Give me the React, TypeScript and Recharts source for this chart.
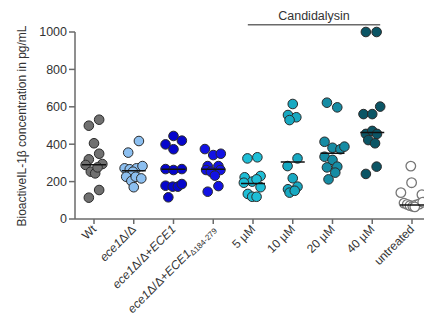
import React from 'react'
import { ScatterChart, Scatter, XAxis, YAxis, ReferenceLine } from 'recharts'

const tickLabels = [
  'Wt',
  'ece1Δ/Δ',
  'ece1Δ/Δ+ECE1',
  'ece1Δ/Δ+ECE1Δ184-279',
  '5 µM',
  '10 µM',
  '20 µM',
  '40 µM',
  'untreated',
]

// IL-1β readings per group (pg/mL) and the horizontal spread of each dot in category units
const wt = [531, 499, 405, 349, 319, 289, 294, 253, 244, 276, 155, 114]
const wtJitter = [0.13, -0.13, 0, 0.13, -0.13, -0.21, 0.21, -0.08, 0.03, 0.09, 0.13, -0.13]
const ece1 = [417, 355, 271, 266, 271, 283, 253, 226, 203, 226, 217, 170]
const ece1Jitter = [0.13, -0.14, -0.23, -0.1, 0.07, 0.22, -0.02, -0.19, -0.06, 0.05, 0.19, 0]
const revertant = [444, 399, 419, 373, 267, 262, 267, 178, 173, 173, 187, 116]
const revertantJitter = [0, -0.2, 0.21, 0, -0.2, 0, 0.21, -0.2, -0.02, 0.11, 0.21, -0.13]
const truncated = [374, 342, 349, 283, 283, 262, 253, 262, 232, 176, 146]
const truncatedJitter = [-0.21, 0, 0.19, -0.14, 0.13, -0.18, -0.06, 0.18, 0.04, 0.13, -0.14]
const um5 = [324, 330, 223, 200, 230, 212, 194, 170, 134, 119, 119]
const um5Jitter = [-0.14, 0.11, -0.21, -0.02, 0.19, 0.09, -0.23, 0.19, -0.13, -0.02, 0.09]
const um10 = [615, 556, 544, 529, 324, 283, 218, 159, 173, 141, 151]
const um10Jitter = [0, -0.12, 0.09, -0.08, 0.12, -0.13, 0, -0.12, 0.12, -0.08, 0.05]
const um20 = [622, 597, 413, 381, 373, 387, 333, 316, 276, 280, 248, 212]
const um20Jitter = [-0.14, 0.12, -0.2, 0, 0.2, 0.3, -0.2, 0, -0.14, 0.12, 0.07, -0.1]
const um40 = [1000, 1000, 561, 561, 601, 455, 471, 455, 422, 405, 241, 280]
const um40Jitter = [-0.16, 0.11, -0.22, 0, 0.2, -0.16, 0, 0.12, -0.1, 0.07, -0.16, 0.11]
const untreated = [283, 194, 141, 130, 85, 78, 72, 68, 75, 80, 65, 90]
const untreatedJitter = [-0.03, -0.01, -0.28, 0.25, -0.2, -0.12, -0.05, 0.02, 0.1, 0.18, 0.07, 0.27]

const medians = [290, 258, 266, 266, 190, 305, 351, 462, 75]
const yTicks = [0, 200, 400, 600, 800, 1000]

const fills = ['#707070', '#8cbff0', '#0606cc', '#1212e4', '#1ebed6', '#17a9c2', '#168ca4', '#0b5565', '#ffffff']

const groups = [
  [wt, wtJitter],
  [ece1, ece1Jitter],
  [revertant, revertantJitter],
  [truncated, truncatedJitter],
  [um5, um5Jitter],
  [um10, um10Jitter],
  [um20, um20Jitter],
  [um40, um40Jitter],
  [untreated, untreatedJitter],
].map(([values, jitter], i) => ({
  data: values.map((v, k) => ({ x: i + jitter[k], y: v })),
  fill: fills[i],
}))

const medianData = medians.map((m, i) => ({ x: i, y: m }))

const font = 'Arial, "Liberation Sans", sans-serif'
const ink = '#333'
const axisColor = '#6a6a6a'

function CategoryTick({ x, y, payload }: any) {
  const label = tickLabels[payload.value] ?? ''
  const parts = label.split(/(ece1|ECE1|Δ184-279)/).filter(Boolean)
  return (
    <g transform={`translate(${x + 3},${y + 6})`}>
      <text textAnchor="end" transform="rotate(-45)" fontSize={12} fontFamily={font} fill={ink}>
        {parts.map((p, k) =>
          p === 'Δ184-279' ? (
            <tspan key={k} fontSize={8} dy={2}>{p}</tspan>
          ) : p === 'ece1' || p === 'ECE1' ? (
            <tspan key={k} fontStyle="italic">{p}</tspan>
          ) : (
            <tspan key={k}>{p}</tspan>
          ),
        )}
      </text>
    </g>
  )
}

export default function App() {
  return (
    <div style={{ position: 'absolute', left: 0, top: 0, background: '#fff' }}>
      <ScatterChart width={424} height={334} margin={{ top: 32, right: 0, bottom: 0, left: 0 }}>
        <XAxis
          type="number"
          dataKey="x"
          domain={[-0.478, 8.302]}
          ticks={[0, 1, 2, 3, 4, 5, 6, 7, 8]}
          interval={0}
          allowDataOverflow
          height={115}
          tickSize={5}
          tickMargin={0}
          stroke={axisColor}
          strokeWidth={1.5}
          tick={<CategoryTick />}
        />
        <YAxis
          type="number"
          dataKey="y"
          domain={[0, 1000]}
          ticks={yTicks}
          width={75}
          tickSize={6}
          tickMargin={2}
          stroke={axisColor}
          strokeWidth={1.5}
          tick={{ fontSize: 12.5, fill: ink, fontFamily: font }}
          label={{
            content: () => (
              <text
                transform="translate(26 126) rotate(-90)"
                textAnchor="middle"
                fontSize={12}
                fontFamily={font}
                fill={ink}
              >
                BioactiveIL-1β concentration in pg/mL
              </text>
            ),
          }}
        />
        {groups.map((g, i) => (
          <Scatter
            key={i}
            data={g.data}
            isAnimationActive={false}
            shape={(p: any) => (
              <circle
                cx={p.cx}
                cy={p.cy}
                r={4.8}
                fill={g.fill}
                stroke={i === 8 ? '#777' : '#2a2a2a'}
                strokeWidth={i === 8 ? 1.3 : 1}
              />
            )}
          />
        ))}
        {/* median bars, drawn after the dots so they sit on top */}
        <Scatter
          data={medianData}
          isAnimationActive={false}
          shape={(p: any) => (
            <line x1={p.cx - 12} x2={p.cx + 12} y1={p.cy} y2={p.cy} stroke="#111" strokeWidth={1.5} />
          )}
        />
        <ReferenceLine
          segment={[{ x: 3.87, y: 1039 }, { x: 7.2, y: 1039 }]}
          ifOverflow="visible"
          stroke={axisColor}
          strokeWidth={1.5}
          label={{ value: 'Candidalysin', position: 'top', fontSize: 12.5, fill: ink, fontFamily: font, offset: 5 }}
        />
      </ScatterChart>
    </div>
  )
}
